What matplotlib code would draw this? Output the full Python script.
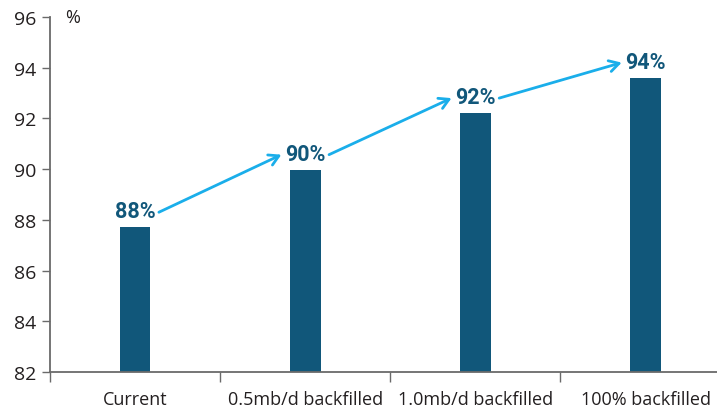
import matplotlib.pyplot as plt
import numpy as np

scenarios = ["Current", "0.5mb/d backfilled", "1.0mb/d backfilled", "100% backfilled"]
shares = [87.7, 89.97, 92.2, 93.6]
y_ticks = [82, 84, 86, 88, 90, 92, 94, 96]

bar_color = "#11577a"
arrow_color = "#1aaeea"
axis_color = "#6a6a6a"
text_color = "#231f20"

plt.rcParams['font.family'] = ['Open Sans', 'DejaVu Sans']

fig = plt.figure(figsize=(7.17, 4.10), dpi=100)
ax = fig.add_axes([0.0697, 0.0902, 0.9303, 0.866])

x = np.arange(len(scenarios))
ax.bar(x, [s - 82 for s in shares], bottom=82, width=0.18, color=bar_color, zorder=2)

# value labels above each bar
for i, s in enumerate(shares):
    ax.text(i, s + 0.2, f"{s:.0f}%", ha="center", va="bottom",
            fontsize=15.5, fontweight="bold",
            family=["Roboto", "DejaVu Sans"], color=bar_color)

# arrows linking consecutive labels
for i in range(len(shares) - 1):
    ax.annotate("", xy=(i + 1 - 0.14, shares[i + 1] + 0.6),
                xytext=(i + 0.14, shares[i] + 0.6),
                arrowprops=dict(arrowstyle="->,head_length=0.7,head_width=0.4",
                                color=arrow_color, lw=2, shrinkA=0, shrinkB=0))

ax.set_ylim(82, 96)
ax.set_xlim(-0.5, 3.42)
ax.set_yticks(y_ticks)
ax.tick_params(axis="y", length=6, width=1, color=axis_color, pad=4,
               labelsize=14, labelcolor=text_color)

# boundary ticks between categories, labels at category centres
ax.set_xticks(np.arange(-0.5, 3.0, 1.0))
ax.set_xticklabels([])
ax.set_xticks(x, minor=True)
ax.set_xticklabels(scenarios, minor=True)
ax.tick_params(axis="x", which="major", length=7, width=1, color=axis_color)
ax.tick_params(axis="x", which="minor", length=0, pad=13,
               labelsize=13, labelcolor=text_color)

for side in ["top", "right"]:
    ax.spines[side].set_visible(False)
for side in ["left", "bottom"]:
    ax.spines[side].set_color(axis_color)
    ax.spines[side].set_linewidth(1.3)

ax.text(0.022, 1.0, "%", transform=ax.transAxes, ha="left", va="center",
        fontsize=13, color=text_color)

fig.savefig("out.png", dpi=100)
